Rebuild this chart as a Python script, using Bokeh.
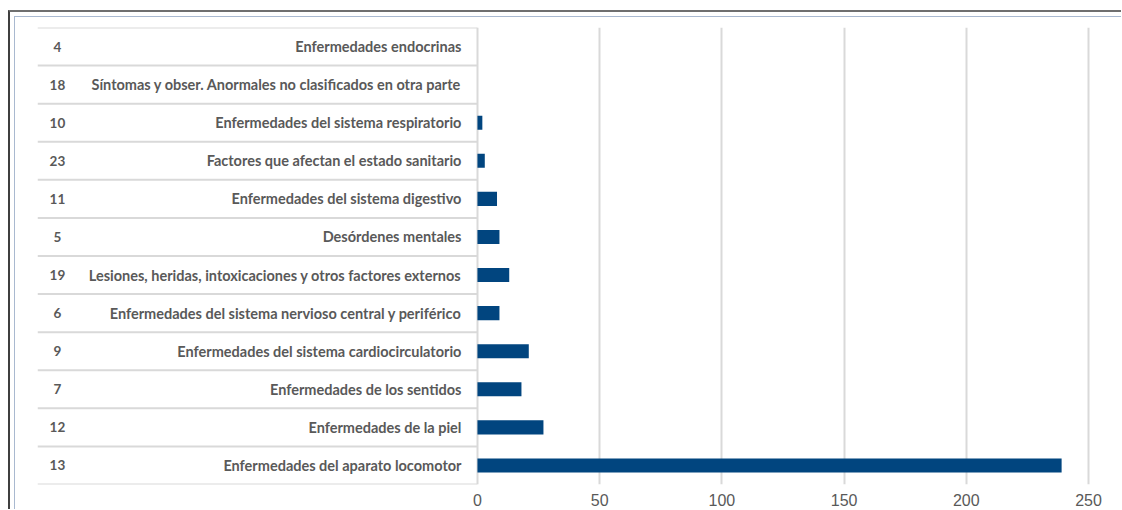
from bokeh.plotting import figure
from bokeh.models import ColumnDataSource, FactorRange, FixedTicker, Column
from bokeh.transform import dodge
from bokeh.core.properties import value
from bokeh.embed import file_html
from bokeh.resources import INLINE

# ---- data (top to bottom as shown) ----
codes = ["4", "18", "10", "23", "11", "5", "19", "6", "9", "7", "12", "13"]
names = [
    "Enfermedades endocrinas",
    "Síntomas y obser. Anormales no clasificados en otra parte",
    "Enfermedades del sistema respiratorio",
    "Factores que afectan el estado sanitario",
    "Enfermedades del sistema digestivo",
    "Desórdenes mentales",
    "Lesiones, heridas, intoxicaciones y otros factores externos",
    "Enfermedades del sistema nervioso central y periférico",
    "Enfermedades del sistema cardiocirculatorio",
    "Enfermedades de los sentidos",
    "Enfermedades de la piel",
    "Enfermedades del aparato locomotor",
]
values = [0, 0, 2, 3, 8, 9, 13, 9, 21, 18, 27, 239]
x_ticks = [0, 50, 100, 150, 200, 250]

# ---- layout constants ----
X_START, X_END = -180, 259
GRID = "#d9d9d9"
TXT = "#595959"
BAR = "#01457f"

src = ColumnDataSource(dict(code=codes, name=names, val=values))
top_src = ColumnDataSource(dict(name=names[:1]))

p = figure(
    width=1106, height=492,
    y_range=FactorRange(factors=names[::-1], range_padding=0),
    x_range=(X_START, X_END),
    output_backend="svg", toolbar_location=None,
    min_border_left=22, min_border_right=11, min_border_top=10, min_border_bottom=25,
)
p.outline_line_color = None
p.background_fill_color = "white"
p.border_fill_color = "white"

# table separators
p.segment(x0=X_START, x1=0, y0=dodge("name", -0.5, range=p.y_range),
          y1=dodge("name", -0.5, range=p.y_range), source=src,
          line_color=GRID, line_width=2)
p.segment(x0=X_START, x1=0, y0=dodge("name", 0.5, range=p.y_range),
          y1=dodge("name", 0.5, range=p.y_range), source=top_src,
          line_color=GRID, line_width=2)

# bars
p.hbar(y="name", left=0, right="val", height=0.37, source=src,
       fill_color=BAR, line_color=None)

# labels
p.text(x=0, y="name", text="name", source=src, x_offset=-16,
       text_align="right", text_baseline="middle",
       text_font=value("Lato"), text_font_style="bold",
       text_font_size="14.5px", text_color=TXT)
p.text(x=0, y="name", text="code", source=src, x_offset=-420,
       text_align="center", text_baseline="middle",
       text_font=value("Lato"), text_font_style="bold",
       text_font_size="13.5px", text_color=TXT)

# axes / grid
p.yaxis.visible = False
p.ygrid.grid_line_color = None
p.xgrid.ticker = FixedTicker(ticks=x_ticks)
p.xgrid.grid_line_color = GRID
p.xgrid.grid_line_width = 2
p.xaxis.ticker = FixedTicker(ticks=x_ticks)
p.xaxis.axis_line_color = None
p.xaxis.major_tick_line_color = None
p.xaxis.minor_tick_line_color = None
p.xaxis.major_label_standoff = 3
p.xaxis.major_label_text_font = "Liberation Sans"
p.xaxis.major_label_text_font_size = "16px"
p.xaxis.major_label_text_color = TXT

inner = Column(children=[p], styles={
    "border-top": "1px solid #a9b9d0",
    "border-left": "1px solid #a9b9d0",
})
root = Column(children=[inner], styles={
    "margin-top": "10px",
    "margin-left": "8px",
    "border-top": "2px solid #6f6f6f",
    "border-left": "2px solid #3f3f3f",
    "padding-top": "4px",
    "padding-left": "4px",
})

open("out.html", "w").write(file_html(root, INLINE))
